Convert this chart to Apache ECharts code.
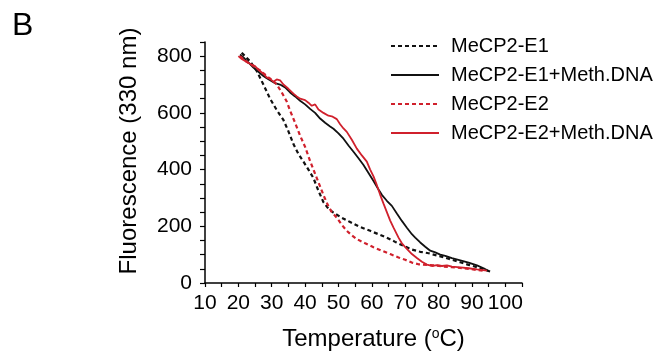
<!DOCTYPE html>
<html>
<head>
<meta charset="utf-8">
<script src="https://cdn.jsdelivr.net/npm/echarts@6/dist/echarts.min.js"></script>
<style>
html,body{margin:0;padding:0;background:#fff;}
#c{width:662px;height:356px;}
</style>
</head>
<body>
<div id="c"></div>
<script>
// ---- data ----
const seriesNames = ['MeCP2-E1', 'MeCP2-E1+Meth.DNA', 'MeCP2-E2', 'MeCP2-E2+Meth.DNA'];

const e1Temp = [21, 23.5, 25.5, 27.5, 29.5, 31.5, 33.5, 35, 36.5, 38, 39.5, 41, 42.5, 44, 45.5, 47, 48.5, 51, 53.5, 56, 59.5, 62, 64.5, 67, 69.5, 72, 74.5, 77, 79.5, 81.5, 84, 86.5, 89, 91.5, 93.5, 95.5];
const e1Fluo = [812, 782, 748, 700, 650, 610, 575, 535, 490, 455, 428, 400, 370, 325, 285, 262, 248, 230, 215, 200, 184, 172, 160, 145, 131, 118, 110, 105, 97, 91, 82, 73, 64, 56, 48, 40];

const e1dTemp = [20.5, 22, 23, 24.5, 26, 27.5, 28.5, 30, 31, 32.5, 34, 35.5, 37, 38.5, 40, 41.5, 43, 44.5, 46, 47.5, 48.5, 50, 51.5, 53, 54.5, 56, 57.5, 59, 60.5, 62, 63, 64.5, 66, 67.5, 69, 70.5, 72, 73, 74.5, 76, 77.5, 79, 80.5, 82, 84, 86.5, 89, 91.5, 93.5, 95];
const e1dFluo = [806, 790, 778, 760, 745, 730, 722, 712, 705, 700, 690, 672, 658, 643, 630, 614, 600, 580, 565, 552, 544, 528, 509, 485, 463, 440, 416, 388, 360, 330, 311, 290, 272, 245, 219, 195, 172, 160, 143, 128, 114, 108, 100, 96, 88, 80, 72, 62, 52, 42];

const e2Temp = [20.5, 22.5, 24.5, 26.5, 28.5, 30.5, 31.5, 33, 34.5, 35.5, 37, 38.5, 40, 41.5, 43, 44.5, 45.5, 47, 48, 49.5, 51, 52.5, 54, 55.5, 58, 60.5, 63, 65.5, 68, 70, 72, 74, 76.5, 79, 81.5, 84, 86.5, 89, 91.5, 94];
const e2Fluo = [800, 780, 765, 750, 730, 712, 700, 672, 640, 608, 565, 520, 480, 430, 385, 340, 310, 270, 250, 230, 205, 184, 168, 155, 140, 126, 114, 102, 90, 82, 72, 66, 64, 62, 58, 56, 53, 50, 46, 42];

const e2dTemp = [20, 21, 22.5, 24, 25, 26, 27.5, 28.5, 29.5, 30.5, 31.5, 32.5, 33.5, 35, 36.5, 37.5, 38.5, 40, 41, 42, 43, 44, 45.5, 47, 48, 49.5, 50.5, 51.5, 52.5, 54, 55.5, 57, 58.5, 59.5, 60.5, 61.5, 62.5, 63.5, 64.5, 65.5, 66.5, 68, 69, 70.5, 72, 73.5, 75, 76.5, 78, 79.5, 81, 82.5, 84, 86.5, 89, 91.5, 94.5];
const e2dFluo = [800, 790, 780, 770, 765, 752, 738, 725, 720, 710, 718, 715, 700, 685, 668, 658, 650, 645, 636, 625, 630, 612, 600, 590, 588, 578, 560, 545, 533, 505, 474, 450, 428, 400, 376, 345, 311, 280, 250, 220, 195, 160, 140, 120, 102, 88, 75, 65, 60, 63, 60, 62, 58, 55, 52, 48, 44];

const xTickLabels = [10, 20, 30, 40, 50, 60, 70, 80, 90, 100];
const yTickLabels = [0, 200, 400, 600, 800];

function pairs(xs, ys) { return xs.map((x, i) => [x, ys[i]]); }

const BLACK = '#111111';
const RED = '#d0202c';
const FONT = '"Liberation Sans", Arial, sans-serif';

const chart = echarts.init(document.getElementById('c'), null, {renderer: 'canvas'});

chart.setOption({
  animation: false,
  backgroundColor: '#ffffff',
  textStyle: {fontFamily: FONT, color: '#000'},
  grid: {left: 205, right: 140, top: 42, bottom: 70, containLabel: false},
  graphic: [{
    type: 'text', left: 12, top: 10,
    style: {text: 'B', fontSize: 32, fontFamily: FONT, fill: '#000'}
  }],
  legend: {
    orient: 'vertical',
    left: 390, top: 36,
    padding: 0,
    itemWidth: 48, itemHeight: 14, itemGap: 9,
    itemStyle: {opacity: 0, borderWidth: 0},
    textStyle: {fontSize: 20, fontFamily: FONT, color: '#000', padding: [0, 0, 0, 7]},
    data: seriesNames
  },
  xAxis: {
    type: 'value',
    min: 10, max: 105, interval: 5,
    name: 'Temperature ({s|o}C)',
    nameLocation: 'middle',
    nameGap: 44,
    nameTextStyle: {
      fontSize: 24, fontFamily: FONT, color: '#000', padding: [0, 0, 0, 20],
      rich: {s: {fontSize: 14, fontFamily: FONT, verticalAlign: 'top', padding: [0, 0, 9, 0], color: '#000'}}
    },
    axisLine: {show: true, onZero: false, lineStyle: {color: '#000', width: 1.5}},
    axisTick: {show: true, length: 4, lineStyle: {color: '#000', width: 1.2}},
    axisLabel: {
      fontSize: 21, fontFamily: FONT, color: '#000', margin: 10,
      formatter: v => xTickLabels.indexOf(v) >= 0 ? String(v) : ''
    },
    splitLine: {show: false}
  },
  yAxis: {
    type: 'value',
    min: 0, max: 850, interval: 50,
    name: 'Fluorescence (330 nm)',
    nameLocation: 'middle',
    nameGap: 64,
    nameTextStyle: {fontSize: 24, fontFamily: FONT, color: '#000', padding: [0, 0, 0, 23]},
    axisLine: {show: true, lineStyle: {color: '#000', width: 1.5}},
    axisTick: {show: true, length: 5, lineStyle: {color: '#000', width: 1.2}},
    axisLabel: {
      fontSize: 21, fontFamily: FONT, color: '#000', margin: 13,
      formatter: v => yTickLabels.indexOf(v) >= 0 ? String(v) : ''
    },
    splitLine: {show: false}
  },
  series: [
    {name: seriesNames[0], type: 'line', data: pairs(e1Temp, e1Fluo), symbol: 'none', showSymbol: false,
     color: BLACK, lineStyle: {color: BLACK, width: 2.2, type: [4, 3]}, z: 2},
    {name: seriesNames[1], type: 'line', data: pairs(e1dTemp, e1dFluo), symbol: 'none', showSymbol: false,
     color: BLACK, lineStyle: {color: BLACK, width: 1.8, type: 'solid'}, z: 2},
    {name: seriesNames[2], type: 'line', data: pairs(e2Temp, e2Fluo), symbol: 'none', showSymbol: false,
     color: RED, lineStyle: {color: RED, width: 2.2, type: [4, 3]}, z: 3},
    {name: seriesNames[3], type: 'line', data: pairs(e2dTemp, e2dFluo), symbol: 'none', showSymbol: false,
     color: RED, lineStyle: {color: RED, width: 1.8, type: 'solid'}, z: 3}
  ]
});
</script>
</body>
</html>
